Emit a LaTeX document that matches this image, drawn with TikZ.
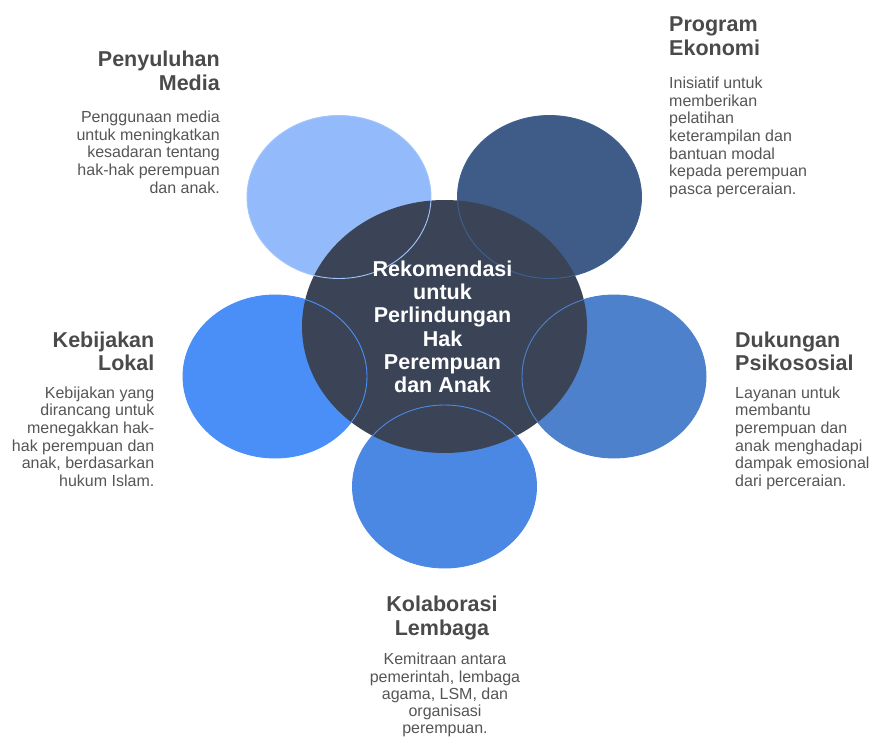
\documentclass[tikz,border=0pt]{standalone}
\usepackage{fontspec}
\setmainfont{Liberation Sans}
\usetikzlibrary{shapes.geometric}
\definecolor{cTL}{HTML}{93BBFB}
\definecolor{cTR}{HTML}{3F5B87}
\definecolor{cL}{HTML}{4A8FF7}
\definecolor{cR}{HTML}{4E81CB}
\definecolor{cB}{HTML}{4B88E3}
\definecolor{cC}{HTML}{3A4456}
\definecolor{ttl}{HTML}{4A4A4A}
\definecolor{dsc}{HTML}{555555}
\tikzset{
  petal/.style={ellipse, inner sep=0pt, minimum width=184pt, minimum height=163pt, draw=none},
  hub/.style={ellipse, inner sep=0pt, minimum width=285pt, minimum height=253pt, fill=cC, draw=none},
  ring/.style={line width=0.9pt},
  ttlbox/.style={inner sep=0pt, text=ttl, font=\fontsize{21.5}{23.3}\selectfont\bfseries},
  dscbox/.style={inner sep=0pt, text=dsc, font=\fontsize{16}{17.6}\selectfont},
  hubtext/.style={inner sep=0pt, text=white, align=center, font=\fontsize{21.5}{23.3}\selectfont\bfseries}
}
\begin{document}
\begin{tikzpicture}[x=1pt,y=-1pt]
\useasboundingbox (0,0) rectangle (874,738);
% petals
\node[petal, fill=cTL] (tl) at (339,197) {};
\node[petal, fill=cTR] (tr) at (549.5,197) {};
\node[petal, fill=cL] (l) at (275,376.5) {};
\node[petal, fill=cR] (r) at (614,376.5) {};
\node[petal, fill=cB] (b) at (444.5,486.5) {};
% hub
\node[hub] (hub) at (444.5,326.5) {};
% petal outlines on top
\draw[ring, draw=cTL!85!white] (tl.center) ellipse [x radius=92pt, y radius=81.5pt];
\draw[ring, draw=cTR!90!cL] (tr.center) ellipse [x radius=92pt, y radius=81.5pt];
\draw[ring, draw=cL] (l.center) ellipse [x radius=92pt, y radius=81.5pt];
\draw[ring, draw=cR] (r.center) ellipse [x radius=92pt, y radius=81.5pt];
\draw[ring, draw=cB] (b.center) ellipse [x radius=92pt, y radius=81.5pt];
% hub text
\node[hubtext, anchor=north] (hubt) at (442.5,260.5) {Rekomendasi\\untuk\\Perlindungan\\Hak\\Perempuan\\dan Anak};
% Penyuluhan Media
\node[ttlbox, align=right, anchor=north east] (t1) at (220,51) {Penyuluhan\\Media};
\node[dscbox, align=right, anchor=north east] (d1) at (220,111) {Penggunaan media\\untuk meningkatkan\\kesadaran tentang\\hak-hak perempuan\\dan anak.};
% Program Ekonomi
\node[ttlbox, align=left, anchor=north west] (t2) at (669,17) {Program\\Ekonomi};
\node[dscbox, align=left, anchor=north west] (d2) at (669,77) {Inisiatif untuk\\memberikan\\pelatihan\\keterampilan dan\\bantuan modal\\kepada perempuan\\pasca perceraian.};
% Kebijakan Lokal
\node[ttlbox, align=right, anchor=north east] (t3) at (154.5,331.5) {Kebijakan\\Lokal};
\node[dscbox, align=right, anchor=north east] (d3) at (154.5,386.5) {Kebijakan yang\\dirancang untuk\\menegakkan hak-\\hak perempuan dan\\anak, berdasarkan\\hukum Islam.};
% Dukungan Psikososial
\node[ttlbox, align=left, anchor=north west] (t4) at (735,331.5) {Dukungan\\Psikososial};
\node[dscbox, align=left, anchor=north west] (d4) at (735,386.5) {Layanan untuk\\membantu\\perempuan dan\\anak menghadapi\\dampak emosional\\dari perceraian.};
% Kolaborasi Lembaga
\node[ttlbox, align=center, anchor=north] (t5) at (442,596) {Kolaborasi\\Lembaga};
\node[dscbox, align=center, anchor=north, font=\fontsize{16}{17.2}\selectfont] (d5) at (445,653) {Kemitraan antara\\pemerintah, lembaga\\agama, LSM, dan\\organisasi\\perempuan.};
\end{tikzpicture}
\end{document}
